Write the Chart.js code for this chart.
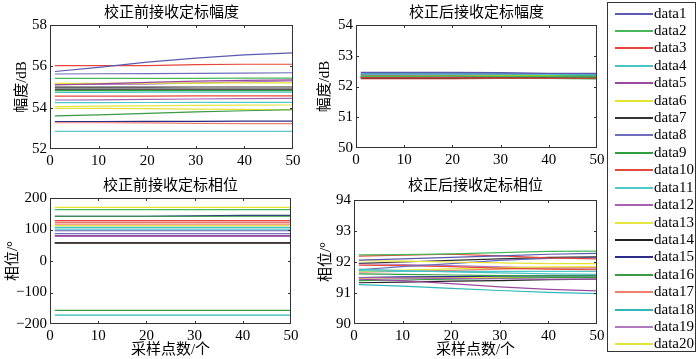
<!DOCTYPE html>
<html>
<head>
<meta charset="utf-8">
<script src="https://cdn.jsdelivr.net/npm/chart.js@4.4.1/dist/chart.umd.min.js"></script>
<style>
  body { margin: 0; background: #fff; }
  #wrap { position: relative; width: 700px; height: 359px; overflow: hidden; background: #fff; }
  #wrap canvas { position: absolute; }
  #legend { position: absolute; left: 607px; top: 2px; width: 89px; height: 350px; border: 1px solid #333; box-sizing: border-box; }
  .row { position: absolute; left: 0; height: 17px; line-height: 17px; font: 15px 'Liberation Serif', serif; color: #000; }
  .row b { position: absolute; left: 7px; top: 8px; width: 38px; height: 2px; }
  .row span { position: absolute; left: 46px; top: 0; }
</style>
</head>
<body>
<div id="wrap">
  <canvas id="c1"></canvas>
  <canvas id="c2"></canvas>
  <canvas id="c3"></canvas>
  <canvas id="c4"></canvas>
  <div id="legend"></div>
</div>
<script>
"use strict";

// sample positions the values below were read at
var xs = [1, 10, 20, 30, 40, 50];

var names = ["data1","data2","data3","data4","data5","data6","data7","data8","data9","data10",
             "data11","data12","data13","data14","data15","data16","data17","data18","data19","data20"];

// b g r c m y k cycle
var colors = ["#5a5aae","#46b85a","#e8463c","#48c4c4","#9a4a9e","#e4e430","#333333",
              "#6e6ebc","#2e9e3e","#e24a3a","#50c8c8","#a860b0","#e6e640","#222222",
              "#2c2c88","#3a9a44","#ee8070","#30b8b8","#b07ac0","#e2e238"];

// 校正前接收定标幅度
var ampBefore = [
  [55.75, 55.95, 56.2, 56.4, 56.55, 56.65],
  [55.42, 55.42, 55.42, 55.42, 55.43, 55.43],
  [56.03, 56.03, 56.03, 56.08, 56.1, 56.1],
  [54.74, 54.74, 54.75, 54.75, 54.75, 54.75],
  [55.1, 55.15, 55.22, 55.28, 55.32, 55.34],
  [55.18, 55.18, 55.19, 55.19, 55.2, 55.2],
  [54.99, 54.99, 54.99, 55.0, 55.0, 55.0],
  [55.63, 55.64, 55.65, 55.66, 55.67, 55.69],
  [54.82, 54.82, 54.82, 54.82, 54.82, 54.82],
  [54.56, 54.56, 54.56, 54.57, 54.57, 54.57],
  [54.24, 54.24, 54.25, 54.26, 54.26, 54.26],
  [54.37, 54.38, 54.4, 54.42, 54.44, 54.45],
  [54.05, 54.07, 54.09, 54.11, 54.12, 54.13],
  [54.9, 54.9, 54.9, 54.9, 54.9, 54.9],
  [53.33, 53.33, 53.34, 53.34, 53.35, 53.35],
  [53.6, 53.65, 53.72, 53.8, 53.85, 53.9],
  [53.27, 53.27, 53.26, 53.24, 53.23, 53.23],
  [52.86, 52.86, 52.86, 52.86, 52.86, 52.86],
  [55.12, 55.12, 55.14, 55.2, 55.25, 55.3],
  [53.97, 53.97, 53.95, 53.93, 53.92, 53.9]
];

// 校正后接收定标幅度
var ampAfter = [
  [52.46, 52.46, 52.46, 52.45, 52.43, 52.43],
  [52.33, 52.33, 52.34, 52.33, 52.32, 52.31],
  [52.28, 52.28, 52.28, 52.27, 52.27, 52.27],
  [52.4, 52.4, 52.4, 52.4, 52.39, 52.38],
  [52.38, 52.38, 52.38, 52.39, 52.39, 52.39],
  [52.35, 52.35, 52.36, 52.37, 52.38, 52.4],
  [52.29, 52.29, 52.29, 52.3, 52.3, 52.3],
  [52.43, 52.43, 52.43, 52.42, 52.42, 52.42],
  [52.36, 52.36, 52.36, 52.36, 52.35, 52.35],
  [52.3, 52.3, 52.3, 52.31, 52.31, 52.31],
  [52.37, 52.37, 52.37, 52.37, 52.36, 52.36],
  [52.31, 52.31, 52.31, 52.32, 52.33, 52.33],
  [52.32, 52.32, 52.34, 52.36, 52.37, 52.37],
  [52.27, 52.27, 52.27, 52.28, 52.28, 52.28],
  [52.32, 52.32, 52.32, 52.32, 52.32, 52.32],
  [52.27, 52.27, 52.27, 52.26, 52.26, 52.25],
  [52.25, 52.25, 52.25, 52.26, 52.27, 52.27],
  [52.34, 52.34, 52.34, 52.33, 52.33, 52.33],
  [52.39, 52.39, 52.39, 52.41, 52.42, 52.42],
  [52.34, 52.34, 52.35, 52.36, 52.38, 52.41]
];

// 校正前接收定标相位
var phaseBefore = [
  [96, 96, 96, 96, 96, 96],
  [163, 163, 163, 163, 163, 163],
  [128, 128, 128, 128, 128, 128],
  [107, 107, 107, 107, 107, 107],
  [81, 81, 81, 81, 81, 81],
  [170, 170, 170, 170, 170, 170],
  [57, 57, 57, 57, 57, 57],
  [87, 87, 87, 87, 87, 87],
  [142, 142, 142, 142, 142, 142],
  [123, 123, 123, 123, 123, 123],
  [101, 101, 101, 101, 101, 101],
  [78, 78, 78, 78, 78, 78],
  [112, 112, 112, 112, 112, 112],
  [58, 58, 58, 58, 58, 58],
  [142, 142, 142, 143, 145, 145],
  [-157, -157, -157, -157, -157, -157],
  [117, 117, 117, 117, 117, 117],
  [-172, -172, -172, -172, -172, -172],
  [58.5, 58.5, 58.5, 58.5, 58.5, 58.5],
  [56.5, 56.5, 56.5, 56.5, 56.5, 56.5]
];

// 校正后接收定标相位
var phaseAfter = [
  [92.06, 92.1, 92.15, 92.2, 92.25, 92.28],
  [92.23, 92.24, 92.26, 92.3, 92.34, 92.35],
  [92.19, 92.22, 92.25, 92.2, 92.13, 92.1],
  [91.77, 91.72, 91.68, 91.65, 91.62, 91.6],
  [91.45, 91.4, 91.3, 91.2, 91.12, 91.07],
  [92.04, 92.03, 92.0, 91.97, 91.95, 91.95],
  [91.96, 92.0, 92.05, 92.1, 92.15, 92.17],
  [91.75, 91.85, 91.95, 92.05, 92.12, 92.15],
  [91.62, 91.6, 91.58, 91.56, 91.55, 91.55],
  [91.9, 91.88, 91.85, 91.8, 91.77, 91.75],
  [91.72, 91.7, 91.7, 91.7, 91.7, 91.7],
  [91.5, 91.48, 91.47, 91.46, 91.45, 91.45],
  [91.7, 91.74, 91.78, 91.82, 91.84, 91.85],
  [91.33, 91.35, 91.38, 91.4, 91.43, 91.45],
  [91.5, 91.52, 91.53, 91.54, 91.55, 91.55],
  [91.4, 91.42, 91.45, 91.47, 91.5, 91.5],
  [91.67, 91.7, 91.73, 91.77, 91.8, 91.82],
  [91.27, 91.22, 91.15, 91.08, 91.02, 90.98],
  [91.95, 91.92, 91.88, 91.84, 91.81, 91.8],
  [91.48, 91.49, 91.5, 91.5, 91.5, 91.5]
];

var FONT = "'Liberation Serif', 'Noto Sans CJK SC', serif";

// box round the plot + inward tick marks on all four sides
var frame = {
  id: 'frame',
  afterDraw: function (chart) {
    var ctx = chart.ctx, a = chart.chartArea;
    var sx = chart.scales.x, sy = chart.scales.y;
    ctx.save();
    ctx.strokeStyle = '#333';
    ctx.lineWidth = 1;
    ctx.strokeRect(Math.round(a.left) + 0.5, Math.round(a.top) + 0.5,
                   Math.round(a.width) - 1, Math.round(a.height) - 1);
    ctx.beginPath();
    sx.ticks.forEach(function (t) {
      var p = Math.round(sx.getPixelForValue(t.value)) + 0.5;
      if (p < a.left + 2 || p > a.right - 2) return;
      ctx.moveTo(p, a.bottom); ctx.lineTo(p, a.bottom - 3);
      ctx.moveTo(p, a.top); ctx.lineTo(p, a.top + 3);
    });
    sy.ticks.forEach(function (t) {
      var p = Math.round(sy.getPixelForValue(t.value)) + 0.5;
      if (p < a.top + 2 || p > a.bottom - 2) return;
      ctx.moveTo(a.left, p); ctx.lineTo(a.left + 3, p);
      ctx.moveTo(a.right, p); ctx.lineTo(a.right - 3, p);
    });
    ctx.stroke();
    ctx.restore();
  }
};

function makeChart(id, box, cfg) {
  var cv = document.getElementById(id);
  cv.style.left = box.left + 'px';
  cv.style.top = box.top + 'px';
  cv.style.width = box.w + 'px';
  cv.style.height = box.h + 'px';
  cv.width = box.w;
  cv.height = box.h;

  var sets = cfg.data.map(function (vals, i) {
    return {
      label: names[i],
      data: vals.map(function (v, j) { return {x: xs[j], y: v}; }),
      borderColor: colors[i],
      borderWidth: 1.2,
      pointRadius: 0,
      tension: 0,
      fill: false
    };
  });

  return new Chart(cv.getContext('2d'), {
    type: 'line',
    data: {datasets: sets},
    options: {
      responsive: false,
      animation: false,
      events: [],
      layout: {padding: {left: 0, right: box.w - box.right, top: 0, bottom: 0}},
      plugins: {
        legend: {display: false},
        tooltip: {enabled: false},
        title: {
          display: true,
          text: cfg.title,
          fullSize: false,
          color: '#000',
          font: {family: FONT, size: 15, weight: 'normal', lineHeight: 1.2},
          padding: {top: 4, bottom: box.top0 - 22}
        }
      },
      scales: {
        x: {
          type: 'linear',
          min: 0, max: 50,
          grid: {display: false, drawTicks: false},
          border: {display: false},
          ticks: {stepSize: 10, padding: 3, color: '#000', maxRotation: 0,
                  font: {family: FONT, size: 15}},
          title: {display: !!cfg.xTitle, text: cfg.xTitle || '', color: '#000', padding: 0,
                  font: {family: FONT, size: 15}},
          afterFit: function (s) { s.height = box.h - box.bottom; }
        },
        y: {
          min: cfg.yMin, max: cfg.yMax,
          grid: {display: false, drawTicks: false},
          border: {display: false},
          ticks: {stepSize: cfg.yStep, padding: 3, color: '#000',
                  font: {family: FONT, size: 15},
                  callback: function (v) { return String(v).replace('-', '\u2212'); }},
          title: {display: true, text: cfg.yTitle, color: '#000',
                  padding: {top: cfg.yTitlePad, bottom: 0},
                  font: {family: FONT, size: 15}},
          afterFit: function (s) { s.width = box.leftArea; }
        }
      }
    },
    plugins: [frame]
  });
}

makeChart('c1', {left: 0, top: 0, w: 310, h: 178, leftArea: 50, right: 293, bottom: 149, top0: 25},
  {data: ampBefore, title: '校正前接收定标幅度', yTitle: '幅度/dB', yMin: 52, yMax: 58, yStep: 2, yTitlePad: 13});

makeChart('c2', {left: 300, top: 0, w: 310, h: 178, leftArea: 56, right: 297, bottom: 148, top0: 25},
  {data: ampAfter, title: '校正后接收定标幅度', yTitle: '幅度/dB', yMin: 50, yMax: 54, yStep: 1, yTitlePad: 16});

makeChart('c3', {left: 0, top: 173, w: 310, h: 186, leftArea: 50, right: 291, bottom: 151, top0: 25},
  {data: phaseBefore, title: '校正前接收定标相位', yTitle: '相位/°', xTitle: '采样点数/个',
   yMin: -200, yMax: 200, yStep: 100, yTitlePad: 4});

makeChart('c4', {left: 300, top: 173, w: 310, h: 186, leftArea: 54, right: 297, bottom: 151, top0: 27},
  {data: phaseAfter, title: '校正后接收定标相位', yTitle: '相位/°', xTitle: '采样点数/个',
   yMin: 90, yMax: 94, yStep: 1, yTitlePad: 17});

// legend box on the right
var lg = document.getElementById('legend');
names.forEach(function (n, i) {
  var r = document.createElement('div');
  r.className = 'row';
  r.style.top = Math.round(1.5 + i * 17.42) + 'px';
  r.innerHTML = '<b style="background-color:' + colors[i] + '"></b><span>' + n + '</span>';
  lg.appendChild(r);
});
</script>
</body>
</html>
